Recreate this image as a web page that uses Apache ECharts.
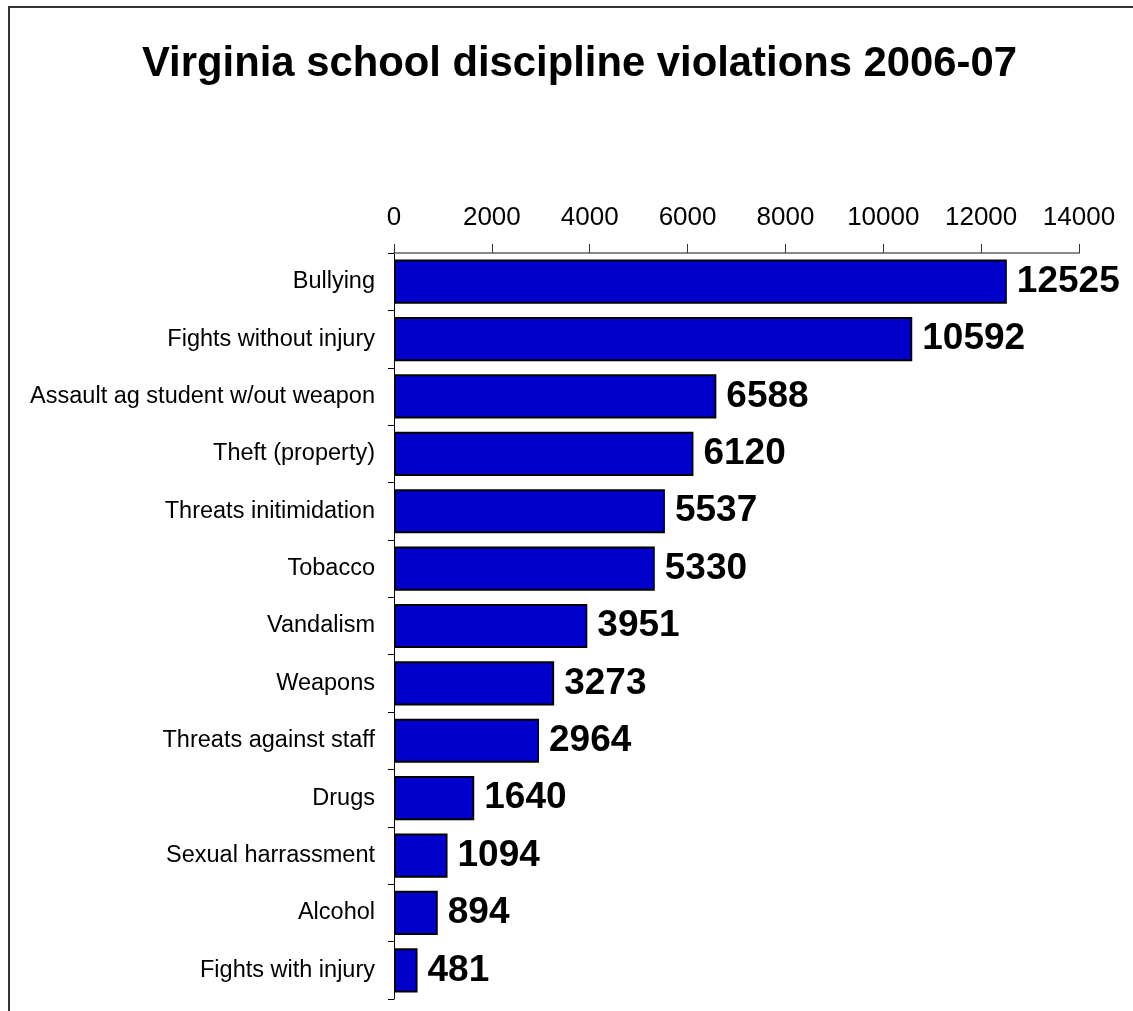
<!DOCTYPE html>
<html>
<head>
<meta charset="utf-8">
<title>Virginia school discipline violations 2006-07</title>
<script src="https://cdn.jsdelivr.net/npm/echarts@6/dist/echarts.min.js"></script>
<style>
  html, body { margin: 0; padding: 0; background: #fff; }
  #chart { width: 1133px; height: 1011px; }
</style>
</head>
<body>
<div id="chart"></div>
<script>
const categories = [
  "Bullying", "Fights without injury", "Assault ag student w/out weapon",
  "Theft (property)", "Threats initimidation", "Tobacco", "Vandalism",
  "Weapons", "Threats against staff", "Drugs", "Sexual harrassment",
  "Alcohol", "Fights with injury",
];
const violations = [12525, 10592, 6588, 6120, 5537, 5330, 3951, 3273, 2964, 1640, 1094, 894, 481];
const axisMax = 14000;
const axisStep = 2000;

const chart = echarts.init(document.getElementById("chart"));
chart.setOption({
  animation: false,
  textStyle: { fontFamily: "Liberation Sans, Arial, sans-serif" },
  title: {
    text: "Virginia school discipline violations 2006-07",
    left: 137,
    top: 38,
    textStyle: { fontSize: 41.8, fontWeight: "bold", color: "#000" },
  },
  // frame line along the top and left edge
  graphic: [{
    type: "rect",
    shape: { x: 9, y: 7, width: 1400, height: 1400 },
    style: { fill: null, stroke: "#333", lineWidth: 2 },
    silent: true,
  }],
  grid: { left: 394, right: 54, top: 253, bottom: 12 },
  xAxis: {
    type: "value",
    position: "top",
    min: 0,
    max: axisMax,
    interval: axisStep,
    axisLine: { show: true, lineStyle: { color: "#888", width: 2 } },
    axisTick: { show: true, length: 9, lineStyle: { color: "#333", width: 1 } },
    axisLabel: { fontSize: 26, color: "#000", margin: 22, formatter: (v) => String(v) },
    splitLine: { show: false },
  },
  yAxis: {
    type: "category",
    data: categories,
    inverse: true,
    axisLine: { show: true, lineStyle: { color: "#000", width: 1 } },
    axisTick: { show: true, length: 6, lineStyle: { color: "#000" } },
    axisLabel: { fontSize: 23.5, color: "#000", margin: 19 },
  },
  series: [{
    type: "bar",
    data: violations,
    barCategoryGap: "23%",
    itemStyle: { color: "#0000CC", borderColor: "#000", borderWidth: 2 },
    label: {
      show: true,
      position: "right",
      distance: 10,
      fontSize: 37,
      fontWeight: "bold",
      color: "#000",
    },
  }],
});
</script>
</body>
</html>
